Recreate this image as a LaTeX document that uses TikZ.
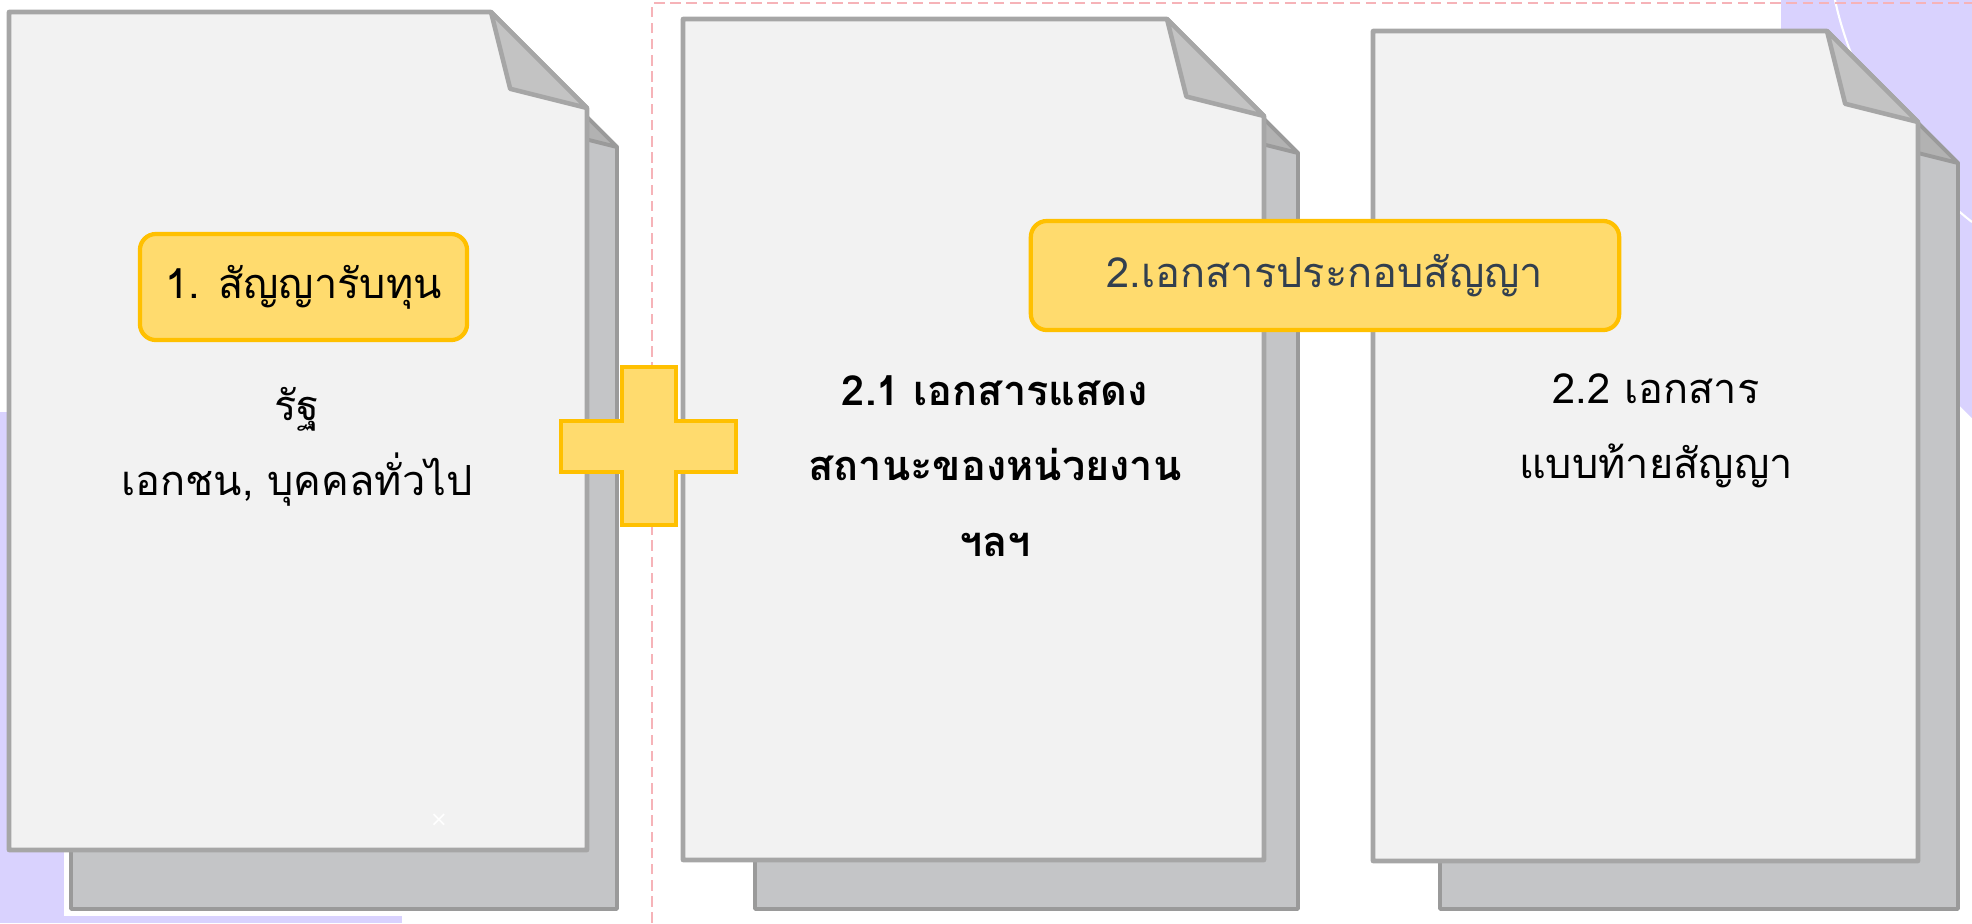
\documentclass[tikz,border=0pt]{standalone}
\usepackage{fontspec}
\setmainfont[Script=Thai]{Loma}
\newfontfamily\symfont{DejaVu Sans}
\definecolor{pagefill}{HTML}{F2F2F2}
\definecolor{pageedge}{HTML}{A6A6A6}
\definecolor{backfill}{HTML}{C4C5C7}
\definecolor{backedge}{HTML}{9A9A9A}
\definecolor{foldfill}{HTML}{C3C3C3}
\definecolor{backfoldfill}{HTML}{B2B2B2}
\definecolor{labelfill}{HTML}{FFDB6E}
\definecolor{labeledge}{HTML}{FFC000}
\definecolor{labeltext}{HTML}{323F4F}
\definecolor{blobcolor}{HTML}{D9D2FE}
\definecolor{framecolor}{HTML}{F6B3B8}

\begin{document}
\begin{tikzpicture}[x=0.01cm, y=-0.01cm,
    frontsheet/.style={fill=pagefill, draw=pageedge, line width=1.3pt, line join=round},
    frontfold/.style={fill=foldfill, draw=pageedge, line width=1.3pt, line join=round},
    backsheet/.style={fill=backfill, draw=backedge, line width=1.1pt, line join=round},
    backfold/.style={fill=backfoldfill, draw=backedge, line width=1.1pt, line join=round},
    labelbox/.style={fill=labelfill, draw=labeledge, line width=1.2pt, rounded corners=0.16cm,
        inner sep=0pt, font=\fontsize{11.8}{15}\selectfont},
    bodytext/.style={align=center, inner sep=0pt, font=\fontsize{11.8}{21.5}\selectfont}]
    \useasboundingbox (0,0) rectangle (1972,923);

    % background blobs
    \fill[blobcolor] (0,412) rectangle (402,923);
    \fill[blobcolor] (1781,0) -- (1972,0) -- (1972,418) -- (1781,230) -- cycle;
    \draw[white, line width=0.6pt] (1835,0) .. controls (1852,80) and (1905,170) .. (1972,222);

    % dashed frame round the second group
    \draw[framecolor, line width=0.7pt, dash pattern=on 3pt off 1.6pt] (652,923) -- (652,3) -- (1972,3);

    % white rim round the first back sheet
    \draw[white, line width=4pt] (71,300) -- (71,909) -- (617,909) -- (617,300);

    % the three documents: front sheet and back sheet
    \foreach \xa/\ya/\xb/\yb/\c/\bxa/\bya/\bxb/\byb/\bc in
        {9/12/587/850/96/71/59/617/909/88,
         683/19/1264/860/97/755/65/1298/909/88,
         1373/31/1918/861/91/1440/75/1958/909/88} {
        \draw[backsheet] (\bxa,\bya) -- (\bxb-\bc,\bya) -- (\bxb,\bya+\bc) -- (\bxb,\byb) -- (\bxa,\byb) -- cycle;
        \draw[backfold] (\bxb-\bc,\bya) -- (\bxb-0.8*\bc,\bya+0.8*\bc) -- (\bxb,\bya+\bc) -- cycle;
        \draw[frontsheet] (\xa,\ya) -- (\xb-\c,\ya) -- (\xb,\ya+\c) -- (\xb,\yb) -- (\xa,\yb) -- cycle;
        \draw[frontfold] (\xb-\c,\ya) -- (\xb-0.8*\c,\ya+0.8*\c) -- (\xb,\ya+\c) -- cycle;
    }

    % plus sign
    \draw[fill=labelfill, draw=labeledge, line width=1.2pt]
        (622,367) -- (676,367) -- (676,421) -- (736,421) -- (736,472) -- (676,472) -- (676,525)
        -- (622,525) -- (622,472) -- (561,472) -- (561,421) -- (622,421) -- cycle;

    % labels
    \node[labelbox, minimum width=3.27cm, minimum height=1.06cm] (fund) at (303.5,287) {1. สัญญารับทุน};
    \node[labelbox, minimum width=5.88cm, minimum height=1.09cm, text=labeltext] (papers) at (1325,275.5) {2.เอกสารประกอบสัญญา};

    % texts on the sheets
    \node[bodytext] (parties) at (297,447) {รัฐ\\เอกชน, บุคคลทั่วไป};
    \node[bodytext, font=\fontsize{11.8}{21.5}\selectfont\bfseries] (status) at (995,466) {2.1 เอกสารแสดง\\สถานะของหน่วยงาน\\ฯลฯ};
    \node[bodytext] (annex) at (1656,431) {2.2 เอกสาร\\แบบท้ายสัญญา};
    \node[text=white, inner sep=0pt, font=\symfont\fontsize{6}{6}\selectfont] (mark) at (439,820) {×};
\end{tikzpicture}
\end{document}
